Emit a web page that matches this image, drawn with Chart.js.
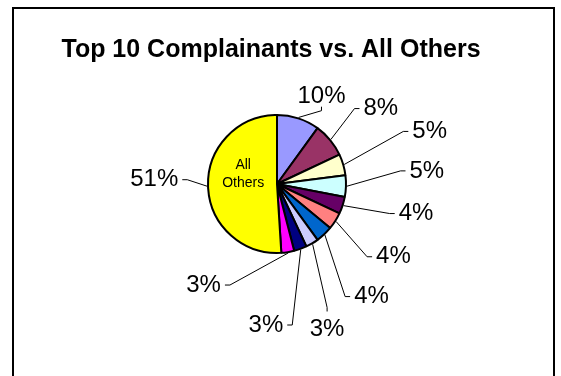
<!DOCTYPE html>
<html>
<head>
<meta charset="utf-8">
<script src="https://cdn.jsdelivr.net/npm/chart.js@4/dist/chart.umd.min.js"></script>
<style>
  html, body { margin: 0; padding: 0; background: #fff; }
  #wrap { position: relative; width: 561px; height: 376px; }
</style>
</head>
<body>
<div id="wrap"><canvas id="complaintsPie"></canvas></div>
<script>
const chartTitle = 'Top 10 Complainants vs. All Others';
const complainants = ['Complainant 1', 'Complainant 2', 'Complainant 3', 'Complainant 4', 'Complainant 5',
                      'Complainant 6', 'Complainant 7', 'Complainant 8', 'Complainant 9', 'Complainant 10',
                      'All Others'];
const shares = [10, 8, 5, 5, 4, 4, 4, 3, 3, 3, 51];
const sliceColors = ['#9999FF', '#993366', '#FFFFCC', '#CCFFFF', '#660066', '#FF8080',
                     '#0066CC', '#CCCCFF', '#000080', '#FF00FF', '#FFFF00'];

const FONT = 'Arial, "Liberation Sans", sans-serif';

// frame, title and the "All Others" caption
const decorations = {
  id: 'decorations',
  beforeDraw(chart) {
    const ctx = chart.ctx;
    ctx.save();
    ctx.strokeStyle = '#000';
    ctx.lineWidth = 2;
    ctx.strokeRect(13, 8, 541, 400);
    ctx.fillStyle = '#000';
    ctx.font = 'bold 25px ' + FONT;
    ctx.textAlign = 'center';
    ctx.textBaseline = 'alphabetic';
    ctx.fillText(chartTitle, 271, 57);
    ctx.restore();
  },
  afterDatasetsDraw(chart) {
    const ctx = chart.ctx;
    const meta = chart.getDatasetMeta(0);
    const last = meta.data[meta.data.length - 1];
    const p = last.getProps(['x', 'y', 'outerRadius'], true);
    // caption sits in the middle of the big slice
    const a = (286 - 90) * Math.PI / 180;
    const cx = p.x + Math.cos(a) * 0.51 * p.outerRadius;
    const cy = p.y + Math.sin(a) * 0.51 * p.outerRadius;
    ctx.save();
    ctx.fillStyle = '#000';
    ctx.font = '14px ' + FONT;
    ctx.textAlign = 'center';
    ctx.textBaseline = 'middle';
    ctx.fillText('All', cx, cy - 9);
    ctx.fillText('Others', cx, cy + 9);
    ctx.restore();
  }
};

// percentage labels outside the pie with leader lines
const pieLabels = {
  id: 'pieLabels',
  afterDatasetsDraw(chart, args, opts) {
    const ctx = chart.ctx;
    const meta = chart.getDatasetMeta(0);
    const values = chart.data.datasets[0].data;
    ctx.save();
    ctx.font = opts.font;
    ctx.textAlign = 'center';
    ctx.textBaseline = 'middle';
    ctx.strokeStyle = '#000';
    ctx.fillStyle = '#000';
    ctx.lineWidth = 1;
    meta.data.forEach((arc, i) => {
      const {x, y, startAngle, endAngle, outerRadius} =
        arc.getProps(['x', 'y', 'startAngle', 'endAngle', 'outerRadius'], true);
      const mid = (startAngle + endAngle) / 2;
      const sx = x + Math.cos(mid) * (outerRadius + 1);
      const sy = y + Math.sin(mid) * (outerRadius + 1);
      const a = (opts.angles[i] - 90) * Math.PI / 180;
      const lx = x + Math.cos(a) * opts.dist[i] * outerRadius;
      const ly = y + Math.sin(a) * opts.dist[i] * outerRadius;
      const text = values[i] + '%';
      const w = ctx.measureText(text).width;
      const left = lx - w / 2, right = lx + w / 2;
      let ex, ey, bx, by;
      if (sx >= left && sx <= right) {
        ex = bx = lx;
        if (sy < ly) { ey = ly - 18; by = ey - 4; } else { ey = ly + 10; by = ey + 4; }
      } else if (sx < left) {
        ex = left - 4; bx = ex - 5; ey = by = ly;
      } else {
        ex = right + 4; bx = ex + 5; ey = by = ly;
      }
      ctx.beginPath();
      ctx.moveTo(sx, sy);
      ctx.lineTo(bx, by);
      ctx.lineTo(ex, ey);
      ctx.stroke();
      ctx.fillText(text, lx, ly);
    });
    ctx.restore();
  }
};

new Chart(document.getElementById('complaintsPie'), {
  type: 'pie',
  data: {
    labels: complainants,
    datasets: [{
      data: shares,
      backgroundColor: sliceColors,
      borderColor: '#000',
      borderWidth: 2
    }]
  },
  options: {
    responsive: true,
    maintainAspectRatio: false,
    animation: false,
    layout: { padding: { left: 207, right: 214, top: 114, bottom: 122 } },
    plugins: {
      legend: { display: false },
      tooltip: { enabled: false },
      title: { display: false },
      pieLabels: {
        font: '24px ' + FONT,
        // angle clockwise from 12 o'clock (deg), distance in pie radii
        angles: [27, 54, 71, 85, 102, 122, 140, 161, 184.5, 216, 272],
        dist: [1.42, 1.86, 2.34, 2.18, 2.06, 1.99, 2.13, 2.23, 2.05, 1.81, 1.78]
      }
    }
  },
  plugins: [decorations, pieLabels]
});
</script>
</body>
</html>
